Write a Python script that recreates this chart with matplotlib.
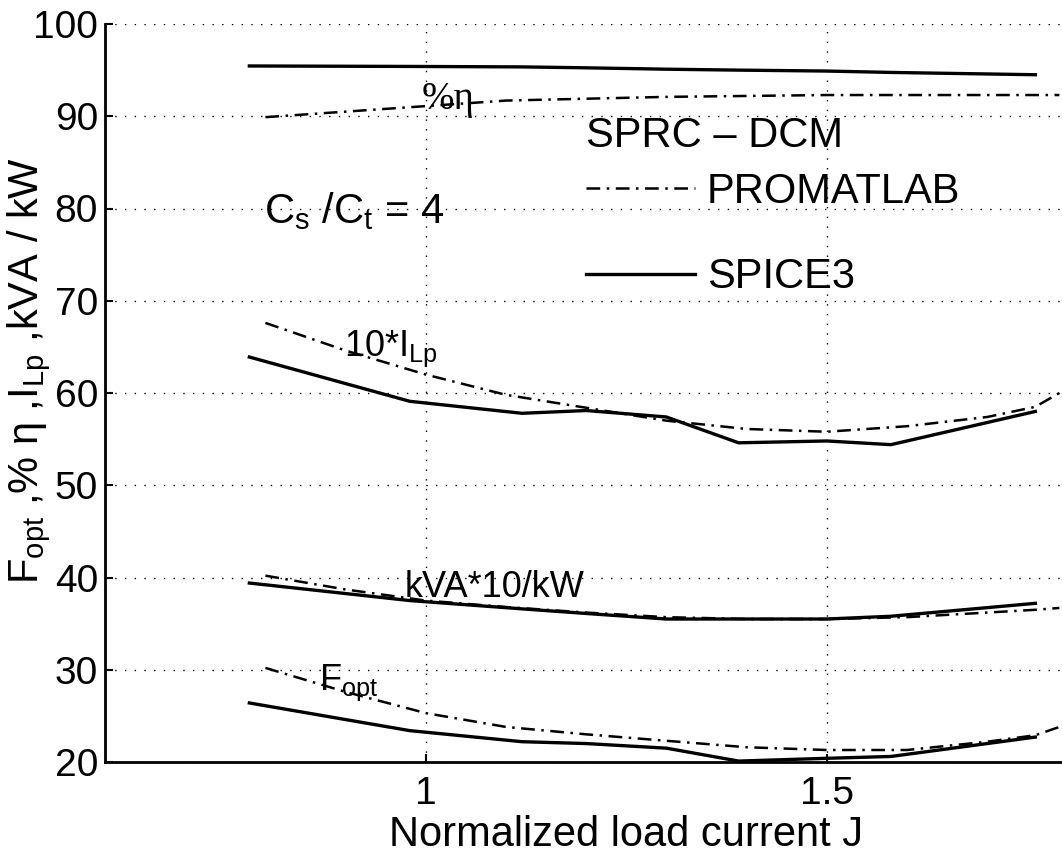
import matplotlib
matplotlib.use('Agg')
import matplotlib.pyplot as plt
from matplotlib.lines import Line2D

plt.rcParams['font.family'] = ['Liberation Sans', 'DejaVu Sans']
plt.rcParams['mathtext.default'] = 'regular'

# SPICE3 results (solid lines)
j_spice = [0.78, 0.98, 1.12, 1.2, 1.3, 1.39, 1.5, 1.58, 1.76]
eta_spice = [95.45, 95.4, 95.35, 95.25, 95.1, 95.0, 94.9, 94.75, 94.5]
ilp_spice = [63.9, 59.1, 57.8, 58.1, 57.4, 54.6, 54.8, 54.4, 58.0]
kva_spice = [39.4, 37.5, 36.6, 36.1, 35.5, 35.5, 35.5, 35.8, 37.2]
fopt_spice = [26.4, 23.4, 22.2, 22.0, 21.5, 20.1, 20.4, 20.6, 22.7]

# PROMATLAB results (dash-dot lines)
j_prom = [0.80, 0.90, 1.0, 1.1, 1.2, 1.3, 1.4, 1.5, 1.6, 1.7, 1.76, 1.79]
eta_prom = [89.9, 90.5, 91.1, 91.7, 91.9, 92.1, 92.2, 92.3, 92.3, 92.3, 92.3, 92.3]
ilp_prom = [67.6, 64.6, 62.0, 59.8, 58.4, 57.0, 56.1, 55.8, 56.4, 57.4, 58.5, 60.0]
kva_prom = [40.2, 38.7, 37.5, 36.8, 36.2, 35.7, 35.5, 35.5, 35.7, 36.2, 36.5, 36.7]
fopt_prom = [30.2, 27.6, 25.3, 23.8, 23.0, 22.3, 21.6, 21.3, 21.3, 22.2, 22.9, 23.8]

x_ticks = [1, 1.5]
x_ticklabels = ['1', '1.5']
y_ticks = [20, 30, 40, 50, 60, 70, 80, 90, 100]

dashdot = (0, (5.5, 2.6, 1, 2.6))
lw_solid = 2.4
lw_dd = 1.8

fig = plt.figure(figsize=(10.62, 8.56), dpi=100)
ax = fig.add_axes([105 / 1062, 1 - 762 / 856, 1042.6 / 1062, 738 / 856])

for y in [eta_spice, ilp_spice, kva_spice, fopt_spice]:
    ax.plot(j_spice, y, color='k', lw=lw_solid)
for y in [eta_prom, ilp_prom, kva_prom, fopt_prom]:
    ax.plot(j_prom, y, color='k', lw=lw_dd, ls=dashdot)

ax.set_xlim(0.6, 1.9)
ax.set_ylim(20, 100)
ax.set_xticks(x_ticks)
ax.set_xticklabels(x_ticklabels)
ax.set_yticks(y_ticks)
ax.tick_params(direction='in', length=6, width=1.5, labelsize=28)
ax.tick_params(axis='y', pad=5)
ax.tick_params(axis='x', pad=10)
ax.spines['top'].set_visible(False)
ax.spines['right'].set_visible(False)
ax.spines['left'].set_linewidth(2.0)
ax.spines['bottom'].set_linewidth(2.0)
ax.grid(True, color='k', ls=(0, (1, 6)), lw=1.0)

ax.set_xlabel('Normalized load current J', fontsize=30, labelpad=2)
ax.set_ylabel(r'F$_{opt}$ ,% η ,I$_{Lp}$ ,kVA / kW', fontsize=30)
ax.yaxis.set_label_coords(-0.05, 0.53)

# curve labels
ax.text(0.995, 90.8, '%η', family=['Liberation Serif', 'DejaVu Serif'], fontsize=28)
ax.text(0.798, 78.4, r'C$_s$ /C$_t$ = 4', fontsize=30)
ax.text(0.898, 64.0, r'10*I$_{Lp}$', fontsize=26)
ax.text(0.973, 37.9, 'kVA*10/kW', fontsize=26)
ax.text(0.867, 27.8, r'F$_{opt}$', fontsize=26)
ax.text(1.2, 86.7, 'SPRC – DCM', fontsize=30)

h_prom = Line2D([], [], color='k', lw=lw_dd, ls=dashdot)
h_spice = Line2D([], [], color='k', lw=lw_solid)
ax.legend([h_prom, h_spice], ['PROMATLAB', 'SPICE3'], loc='upper left',
          bbox_to_anchor=(1.2, 84.0), bbox_transform=ax.transData,
          frameon=False, fontsize=30, handlelength=2.6, handletextpad=0.3,
          labelspacing=1.1, borderpad=0, borderaxespad=0)

fig.savefig('out.png', dpi=100)
